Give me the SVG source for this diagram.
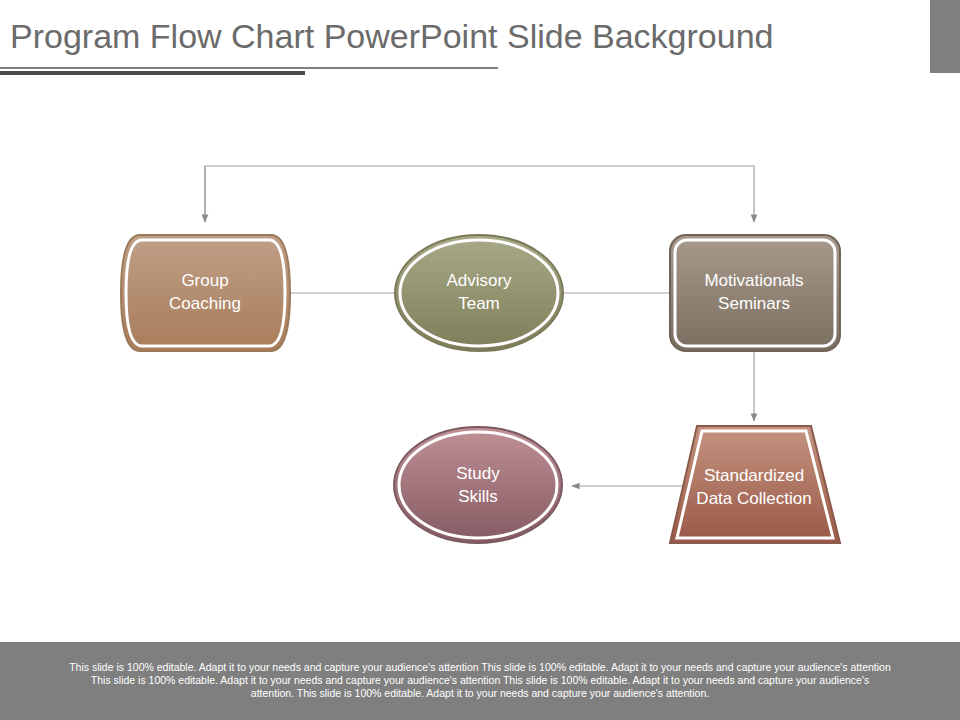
<svg xmlns="http://www.w3.org/2000/svg" width="960" height="720" viewBox="0 0 960 720">
<defs>
<linearGradient id="gb" x1="0" y1="0" x2="0" y2="1"><stop offset="0" stop-color="#c0a088"/><stop offset="1" stop-color="#a87c5a"/></linearGradient>
<linearGradient id="ga" x1="0" y1="0" x2="0" y2="1"><stop offset="0" stop-color="#a8aa88"/><stop offset="1" stop-color="#7e7d58"/></linearGradient>
<linearGradient id="gm" x1="0" y1="0" x2="0" y2="1"><stop offset="0" stop-color="#a89a8c"/><stop offset="1" stop-color="#7a6e60"/></linearGradient>
<linearGradient id="gs" x1="0" y1="0" x2="0" y2="1"><stop offset="0" stop-color="#c09096"/><stop offset="1" stop-color="#855a62"/></linearGradient>
<linearGradient id="gd" x1="0" y1="0" x2="0" y2="1"><stop offset="0" stop-color="#c49480"/><stop offset="1" stop-color="#9a5848"/></linearGradient>
<marker id="ar" viewBox="0 0 10 10" refX="9" refY="5" markerWidth="7" markerHeight="7" orient="auto"><path d="M0,1 L10,5 L0,9 z" fill="#8a8a8a"/></marker>
</defs>
<style>
.t{font-family:"Liberation Sans",Arial,sans-serif;font-size:17px;fill:#fff;text-anchor:middle}
.c{fill:none;stroke:#a0a0a0;stroke-width:1.2}
.in{fill:none;stroke:#fff;stroke-width:3}
</style>
<rect width="960" height="720" fill="#fff"/>
<g id="header">
<text x="10" y="48" font-family="'Liberation Sans',Arial,sans-serif" font-size="34" fill="#6b6b6b">Program Flow Chart PowerPoint Slide Background</text>
<rect x="0" y="67" width="498" height="2" fill="#808080"/>
<rect x="0" y="71" width="305" height="4" fill="#4a4a4a"/>
<rect x="930" y="0" width="30" height="73" fill="#808080"/>
</g>
<g id="connectors">
<path class="c" d="M205,222 V166 H754 V222" marker-end="url(#ar)"/>
<path class="c" d="M205,166 V222" marker-end="url(#ar)"/>
<line class="c" x1="290" y1="293" x2="395" y2="293"/>
<line class="c" x1="563" y1="293" x2="670" y2="293"/>
<path class="c" d="M754,351 V421" marker-end="url(#ar)"/>
<path class="c" d="M683,486 H572" marker-end="url(#ar)"/>
</g>
<g id="group-coaching">
<path d="M140,235 H271 Q290,235 290,293 Q290,351 271,351 H140 Q121,351 121,293 Q121,235 140,235 Z" fill="url(#gb)" stroke="#9a7a58" stroke-width="2"/>
<path class="in" d="M142,240 H269 Q285,240 285,293 Q285,346 269,346 H142 Q126,346 126,293 Q126,240 142,240 Z"/>
<text class="t" x="205" y="286">Group</text><text class="t" x="205" y="309">Coaching</text>
</g>
<g id="advisory-team">
<ellipse cx="479" cy="293" rx="84" ry="58" fill="url(#ga)" stroke="#7a7a58" stroke-width="2"/>
<ellipse class="in" cx="479" cy="293" rx="79" ry="53"/>
<text class="t" x="479" y="286">Advisory</text><text class="t" x="479" y="309">Team</text>
</g>
<g id="motivationals-seminars">
<rect x="670" y="235" width="170" height="116" rx="16" fill="url(#gm)" stroke="#706458" stroke-width="2"/>
<rect class="in" x="675" y="240" width="160" height="106" rx="12"/>
<text class="t" x="754" y="286">Motivationals</text><text class="t" x="754" y="309">Seminars</text>
</g>
<g id="study-skills">
<ellipse cx="478" cy="485" rx="84" ry="58" fill="url(#gs)" stroke="#7a5a60" stroke-width="2"/>
<ellipse class="in" cx="478" cy="485" rx="79" ry="53"/>
<text class="t" x="478" y="479">Study</text><text class="t" x="478" y="502">Skills</text>
</g>
<g id="standardized-data-collection">
<path d="M697,426 H811 L840,543 H670 Z" fill="url(#gd)" stroke="#8a5a4a" stroke-width="2"/>
<path class="in" d="M702,431 H806 L833,538 H677 Z"/>
<text class="t" x="754" y="481">Standardized</text><text class="t" x="754" y="504">Data Collection</text>
</g>
<g id="footer">
<rect x="0" y="642" width="960" height="78" fill="#7f7f7f"/>
<g font-family="'Liberation Sans',Arial,sans-serif" font-size="10.5" fill="#fff" text-anchor="middle">
<text x="480" y="671">This slide is 100% editable. Adapt it to your needs and capture your audience's attention This slide is 100% editable. Adapt it to your needs and capture your audience's attention</text>
<text x="480" y="684">This slide is 100% editable. Adapt it to your needs and capture your audience's attention This slide is 100% editable. Adapt it to your needs and capture your audience's</text>
<text x="480" y="697">attention. This slide is 100% editable. Adapt it to your needs and capture your audience's attention.</text>
</g>
</g>
</svg>
